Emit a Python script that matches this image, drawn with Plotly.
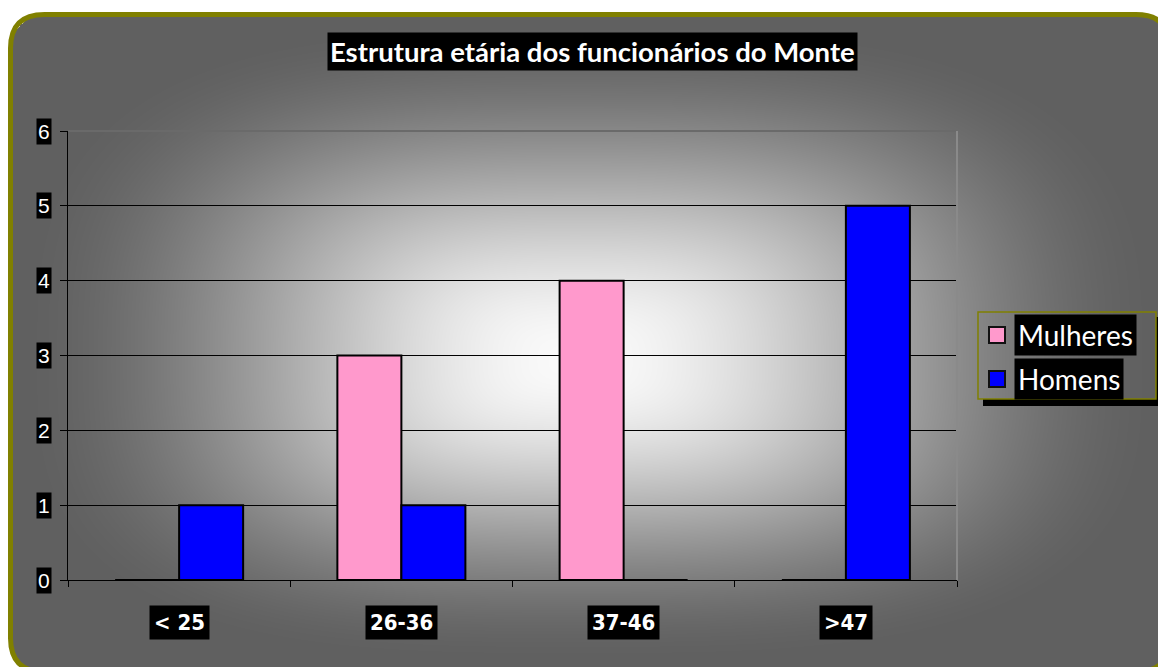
import base64, struct, zlib
import numpy as np
import plotly.graph_objects as go

# ---------------- data ----------------
categories = ["< 25", "26-36", "37-46", ">47"]
series_names = ["Mulheres", "Homens"]
mulheres = [0, 3, 4, 0]
homens = [1, 1, 0, 5]
series_colors = ["#FF99CC", "#0000FF"]
y_ticks = [0, 1, 2, 3, 4, 5, 6]
title_text = "Estrutura etária dos funcionários do Monte"

# ---------------- layout geometry (screen pixels; page has 8px body margin) ----------------
OFF = 8
W, H = 1166, 667
L, R, T, B = 68, 957, 131, 580          # plot area on screen
PW, PH = R - L, B - T


def px(x):
    return (x - L) / PW


def py(y):
    return 1 - (y - T) / PH


# ---------------- background gradient image ----------------
def make_png(rgb):
    h, w, _ = rgb.shape
    raw = b"".join(b"\x00" + rgb[i].tobytes() for i in range(h))

    def chunk(tag, data):
        c = struct.pack(">I", len(data)) + tag + data
        return c + struct.pack(">I", zlib.crc32(tag + data) & 0xFFFFFFFF)

    return (b"\x89PNG\r\n\x1a\n" + chunk(b"IHDR", struct.pack(">IIBBBBB", w, h, 8, 2, 0, 0, 0))
            + chunk(b"IDAT", zlib.compress(raw, 9)) + chunk(b"IEND", b""))


jj, ii = np.mgrid[0:H, 0:W].astype(float)
xx = ii + OFF        # screen coords of figure pixels
yy = jj + OFF
cx, cy = 575.0, 360.0
dx = xx - cx
dy = yy - cy
hx = np.where(dx < 0, 565.0, 595.0)
hy = np.where(dy < 0, 345.0, 307.0)
p = 3.0
t = (np.abs(dx / hx) ** p + np.abs(dy / hy) ** p) ** (1 / p)
t = np.clip(t, 0, 1)
s = t * t * (3 - 2 * t)
light, dark = 250.0, 96.0
g = light - (light - dark) * s

bx0, by0, bx1, by1, br = 10.5, 14.5, 1170.0, 672.0, 34.0
qx = np.clip(xx, bx0 + br, bx1 - br)
qy = np.clip(yy, by0 + br, by1 - br)
inside = (xx >= bx0) & (xx <= bx1) & (yy >= by0) & (yy <= by1) & ((xx - qx) ** 2 + (yy - qy) ** 2 <= br ** 2)
g = np.where(inside, g, 255.0)
img = np.repeat(g[:, :, None], 3, axis=2).astype(np.uint8)
src = "data:image/png;base64," + base64.b64encode(make_png(img)).decode()

# ---------------- figure ----------------
fig = go.Figure()
for name, vals, col in zip(series_names, [mulheres, homens], series_colors):
    fig.add_trace(go.Bar(
        x=categories, y=vals, name=name,
        marker=dict(color=col, line=dict(color="black", width=2)),
        hoverinfo="x+y+name",
    ))

fig.update_layout(
    width=W, height=H,
    margin=dict(l=L - OFF, r=W - (R - OFF), t=T - OFF, b=H - (B - OFF), pad=0),
    paper_bgcolor="white",
    plot_bgcolor="rgba(0,0,0,0)",
    barmode="group", bargap=0.424, bargroupgap=0,
    showlegend=False,
    images=[dict(source=src, xref="paper", yref="paper",
                 x=px(OFF), y=py(OFF), sizex=W / PW, sizey=H / PH,
                 xanchor="left", yanchor="top", sizing="stretch", layer="below")],
)

fig.update_xaxes(
    showline=True, linecolor="black", linewidth=1,
    ticks="outside", tickson="boundaries", ticklen=6, tickcolor="black",
    showticklabels=False, showgrid=False, zeroline=False,
)
fig.update_yaxes(
    range=[0, 6], tickvals=y_ticks, showticklabels=False,
    showgrid=True, gridcolor="black", gridwidth=1,
    showline=True, linecolor="black", linewidth=1,
    ticks="outside", ticklen=7, tickcolor="black", zeroline=False,
)

shapes = []
shapes.append(dict(type="line", xref="paper", yref="paper", x0=0, x1=1, y0=1, y1=1,
                   line=dict(color="#6a6a6a", width=2), layer="above"))
shapes.append(dict(type="line", xref="paper", yref="paper", x0=1, x1=1, y0=0, y1=1,
                   line=dict(color="#8a8a8a", width=2), layer="above"))


def P(x, y):
    return f"{px(x):.5f},{py(y):.5f}"


path = (f"M {P(bx0, by1 - br)} L {P(bx0, by0 + br)} Q {P(bx0, by0)} {P(bx0 + br, by0)} "
        f"L {P(bx1 - br, by0)} Q {P(bx1, by0)} {P(bx1, by0 + br)} L {P(bx1, by1 - br)} "
        f"Q {P(bx1, by1)} {P(bx1 - br, by1)} L {P(bx0 + br, by1)} Q {P(bx0, by1)} {P(bx0, by1 - br)} Z")
shapes.append(dict(type="path", xref="paper", yref="paper", path=path,
                   line=dict(color="#808000", width=5), layer="below"))

# manual legend: shadow, frame, swatches
lx0, ly0, lx1, ly1 = 978, 312, 1156, 399
shapes.append(dict(type="rect", xref="paper", yref="paper", x0=px(lx1), x1=px(lx1 + 6),
                   y0=py(ly0 + 5), y1=py(ly1 + 7), fillcolor="black", line=dict(width=0)))
shapes.append(dict(type="rect", xref="paper", yref="paper", x0=px(lx0 + 5), x1=px(lx1 + 6),
                   y0=py(ly1), y1=py(ly1 + 7), fillcolor="black", line=dict(width=0)))
shapes.append(dict(type="rect", xref="paper", yref="paper", x0=px(lx0), x1=px(lx1),
                   y0=py(ly0), y1=py(ly1), line=dict(color="#808000", width=1.5)))

annotations = []
row_centers = [335, 379]
for name, col, yc in zip(series_names, series_colors, row_centers):
    shapes.append(dict(type="rect", xref="paper", yref="paper", x0=px(989), x1=px(1005),
                       y0=py(yc - 8), y1=py(yc + 8), fillcolor=col,
                       line=dict(color="#111111", width=2)))
    annotations.append(dict(text=name, xref="paper", yref="paper", x=px(1014), y=py(yc),
                            xanchor="left", yanchor="middle", showarrow=False,
                            bgcolor="black", borderpad=3,
                            font=dict(family="Lato, Open Sans, sans-serif", size=28, color="white")))

# title
annotations.append(dict(text="<b>" + title_text + "</b>", xref="paper", yref="paper",
                        x=px(592), y=py(51), xanchor="center", yanchor="middle",
                        showarrow=False, bgcolor="black", borderpad=2,
                        font=dict(family="Lato, Open Sans, sans-serif", size=27.5, color="white")))

# y tick labels
for v in y_ticks:
    annotations.append(dict(text=str(v), xref="paper", yref="y", x=0, y=v,
                            xanchor="right", yanchor="middle", xshift=-16, showarrow=False,
                            bgcolor="black", borderpad=1,
                            font=dict(family="Liberation Sans, Arial, sans-serif", size=21, color="white")))

# x tick labels
for c in categories:
    annotations.append(dict(text="<b>" + c + "</b>", xref="x", yref="paper", x=c, y=0,
                            xanchor="center", yanchor="middle", yshift=-42, showarrow=False,
                            bgcolor="black", borderpad=4,
                            font=dict(family="DejaVu Sans Condensed, Liberation Sans Narrow, sans-serif",
                                      size=22, color="white")))

fig.update_layout(shapes=shapes, annotations=annotations)
fig.write_html("out.html")
